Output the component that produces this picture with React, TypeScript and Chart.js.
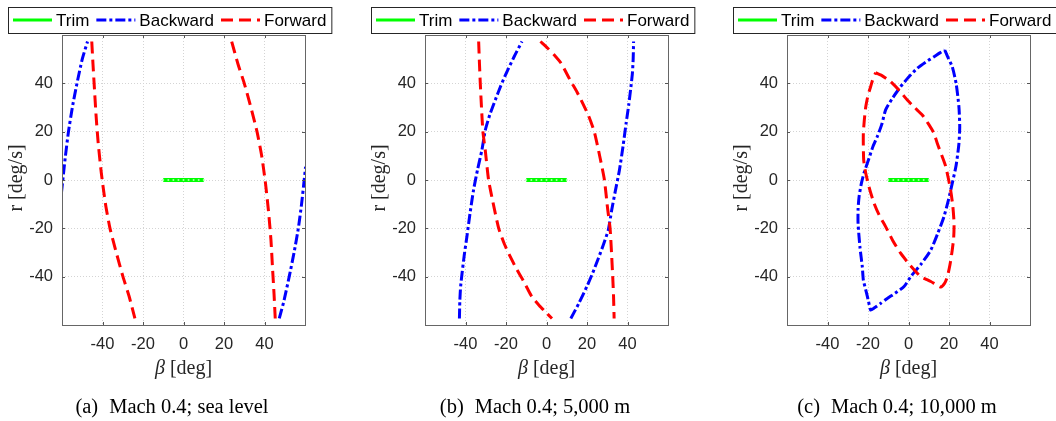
import React, { useEffect, useRef } from 'react';
import { Chart, registerables } from 'chart.js';

Chart.register(...registerables);

// ---------- axes / labels ----------
const X_MIN = -60;
const X_MAX = 60;
const Y_MIN = -60;
const Y_MAX = 60;
const tickValues = [-40, -20, 0, 20, 40];
const legendLabels = ['Trim', 'Backward', 'Forward'];
const panelTags = ['(a)', '(b)', '(c)'];
const panelCaptions = ['Mach 0.4; sea level', 'Mach 0.4; 5,000 m', 'Mach 0.4; 10,000 m'];
const xAxisSymbol = 'β';
const xAxisUnit = ' [deg]';
const yAxisTitle = 'r [deg/s]';

// ---------- Trim (same in all panels) ----------
const trimBeta = [-10, -7.5, -5, -2.5, 0, 2.5, 5, 7.5, 10];
const trimR = [0, 0, 0, 0, 0, 0, 0, 0, 0];

// ---------- (a) sea level ----------
const aBackwardLeftBeta = [-60.3, -59.6, -58.3, -56.8, -54.9, -52.6, -50, -47.4];
const aBackwardLeftR = [-5.5, 0, 10, 20, 30, 40, 50, 57.3];
const aBackwardRightBeta = [47.3, 49.6, 52.2, 54.6, 56.7, 58.3, 59.6, 60.3];
const aBackwardRightR = [-57.3, -50, -40, -30, -20, -10, 0, 5.5];
const aForwardLeftBeta = [-45.3, -44.7, -44, -43.2, -42.2, -40.6, -38.5, -36.3, -33.2, -29.9, -26.9, -24];
const aForwardLeftR = [57.3, 48, 38, 27, 16, 3, -10, -20, -30, -40, -48, -57.3];
const aForwardRightBeta = [23.8, 26.9, 30, 33.3, 36.3, 38.6, 40.5, 42.1, 43.2, 44, 44.7, 45.3];
const aForwardRightR = [57.3, 48, 40, 30, 20, 10, -1.4, -14, -25, -37, -47, -57.3];

// ---------- (b) 5,000 m ----------
const bBackwardLeftBeta = [-43, -42.8, -42.4, -41.7, -40.6, -39.3, -37.8, -36, -34, -31.9, -30.2, -28, -25.3, -22.8, -20.3, -16, -12.1];
const bBackwardLeftR = [-57.3, -50, -44, -38.6, -31, -23.4, -14, -4, 4.5, 12.4, 20.7, 27, 33.1, 38.5, 43.4, 51, 57.3];
const bBackwardRightBeta = [12, 16, 20.3, 22.8, 25.3, 28, 30.5, 32.2, 34, 36, 37.8, 39.3, 40.6, 41.7, 42.4, 42.8, 43];
const bBackwardRightR = [-57.3, -51, -43.4, -38.5, -33.1, -27, -20.7, -12.4, -4.5, 4, 14, 23.4, 31, 38.6, 44, 50, 57.3];
const bForwardLeftBeta = [-33.5, -33.1, -32.7, -32.1, -31.4, -30.2, -28.6, -26.5, -23.6, -20.8, -17.9, -15, -12.1, -9.5, -7.2, -3.5, -0.6, 2.7];
const bForwardLeftR = [57.3, 48, 40, 30, 20, 12, 0, -9, -20, -26.5, -31.7, -36.5, -40.7, -44.8, -48.3, -52, -54.5, -57.3];
const bForwardRightBeta = [-3, 0.6, 3.5, 7.2, 9.5, 12.1, 15, 17.9, 20.8, 23.6, 26.5, 28.6, 30.2, 31.4, 32.1, 32.7, 33.1, 33.4];
const bForwardRightR = [57.3, 54.5, 52, 48.3, 44.8, 40.7, 36.5, 31.7, 26.5, 20, 9, 0, -12, -20, -30, -40, -48, -57.3];

// ---------- (c) 10,000 m ----------
const cBackwardBeta = [17.9, 19.6, 21.6, 23.5, 24.9, 25.3, 24.9, 23.5, 21.6, 19.8, 17.5, 14.5, 11, 6.5, 1.1, -2.2, -6.5, -10.5, -14, -17, -18.7, -19.8, -20.8, -22.3, -22.8, -24, -24.9, -24.9, -24.4, -23.3, -22, -19.5, -17.5, -15.4, -13.2, -11.3, -7.8, -3.9, 0, 4.3, 8.5, 12.6, 15.5, 17.9];
const cBackwardR = [53.8, 50.5, 46.9, 40, 30.3, 22, 15, 6, -1.4, -8, -15.2, -22, -29, -34.5, -40, -44.1, -46.8, -49, -51.2, -53, -53.8, -50, -46.5, -41.4, -36, -27.6, -18, -12, -6.9, -1.5, 2.8, 9, 14, 18, 23, 29, 34, 38.6, 42.5, 46.2, 48.8, 51, 52.6, 53.8];
const cForwardBeta = [-16.2, -13.5, -11, -8.8, -4.5, -0.6, 3, 6.8, 10, 12.6, 14.2, 16.5, 18.4, 20.8, 21.9, 22.5, 22.3, 21.6, 20.5, 19.2, 17.8, 15.9, 13.5, 11, 8.5, 6, 1, -3.9, -7.8, -11.3, -14.5, -17, -19.3, -21.1, -22.1, -22.3, -22.3, -21.8, -21.1, -20, -18.7, -17.5, -16.2];
const cForwardR = [44.4, 43.4, 42, 40.7, 37, 33.1, 30, 26.9, 23, 19.3, 15.2, 10, 5.5, -4.1, -11, -17.9, -24, -29, -35, -40, -42.8, -44.3, -43.2, -42, -41, -40, -35.5, -30.3, -25, -19.3, -14.5, -9.7, -3.5, 2.8, 8, 13.8, 19.3, 25, 30.3, 35, 38.6, 42, 44.4];

// ---------- series styles ----------
const seriesStyle: Record<string, { color: string; width: number; dash: number[]; order: number }> = {
  Trim: { color: '#00ff00', width: 4, dash: [], order: 2 },
  Backward: { color: '#0000ff', width: 3, dash: [10, 3, 3, 3], order: 1 },
  Forward: { color: '#ff0000', width: 3, dash: [12, 6], order: 0 },
};

type Series = [string, number[], number[]];

const panels: { canvasLeft: number; areaLeft: number; rightPad: number; series: Series[] }[] = [
  {
    canvasLeft: 0,
    areaLeft: 62,
    rightPad: 47,
    series: [
      ['Trim', trimBeta, trimR],
      ['Backward', aBackwardLeftBeta, aBackwardLeftR],
      ['Backward', aBackwardRightBeta, aBackwardRightR],
      ['Forward', aForwardLeftBeta, aForwardLeftR],
      ['Forward', aForwardRightBeta, aForwardRightR],
    ],
  },
  {
    canvasLeft: 352,
    areaLeft: 73,
    rightPad: 36,
    series: [
      ['Trim', trimBeta, trimR],
      ['Backward', bBackwardLeftBeta, bBackwardLeftR],
      ['Backward', bBackwardRightBeta, bBackwardRightR],
      ['Forward', bForwardLeftBeta, bForwardLeftR],
      ['Forward', bForwardRightBeta, bForwardRightR],
    ],
  },
  {
    canvasLeft: 704,
    areaLeft: 83,
    rightPad: 26,
    series: [
      ['Trim', trimBeta, trimR],
      ['Backward', cBackwardBeta, cBackwardR],
      ['Forward', cForwardBeta, cForwardR],
    ],
  },
];

const SANS = '"Liberation Sans", Arial, Helvetica, sans-serif';
const SERIF = '"Liberation Serif", "Times New Roman", serif';
const AXIS_COLOR = '#262626';

const decorPlugin = {
  id: 'decor',
  afterDraw(chart: any, _args: any, opts: any) {
    const ctx: CanvasRenderingContext2D = chart.ctx;
    const { left, right, top, bottom } = chart.chartArea;
    const xs = chart.scales.x;
    const ys = chart.scales.y;
    ctx.save();

    // box
    ctx.strokeStyle = '#666666';
    ctx.lineWidth = 1;
    ctx.setLineDash([]);
    ctx.strokeRect(Math.round(left) + 0.5, Math.round(top) + 0.5, Math.round(right - left), Math.round(bottom - top));

    // inner tick marks
    ctx.strokeStyle = '#555';
    ctx.beginPath();
    tickValues.forEach((v) => {
      const px = Math.round(xs.getPixelForValue(v)) + 0.5;
      ctx.moveTo(px, bottom);
      ctx.lineTo(px, bottom - 3);
      ctx.moveTo(px, top);
      ctx.lineTo(px, top + 3);
      const py = Math.round(ys.getPixelForValue(v)) + 0.5;
      ctx.moveTo(left, py);
      ctx.lineTo(left + 3, py);
      ctx.moveTo(right, py);
      ctx.lineTo(right - 3, py);
    });
    ctx.stroke();

    // legend
    ctx.font = `17px ${SANS}`;
    const pad = 5;
    const lineLen = 39;
    const textGap = 4;
    const itemGap = 7;
    const widths = legendLabels.map((l) => ctx.measureText(l).width);
    let total = pad + 5;
    widths.forEach((w, i) => {
      total += lineLen + textGap + w + (i > 0 ? itemGap : 0);
    });
    const lx = Math.round(left - 54);
    const ly = 7;
    const lh = 26;
    ctx.fillStyle = '#ffffff';
    ctx.fillRect(lx, ly, total, lh);
    ctx.strokeStyle = AXIS_COLOR;
    ctx.lineWidth = 1;
    ctx.strokeRect(lx + 0.5, ly + 0.5, total, lh);
    let cx = lx + pad;
    const cy = ly + lh / 2;
    legendLabels.forEach((label, i) => {
      const st = seriesStyle[label];
      ctx.save();
      ctx.strokeStyle = st.color;
      ctx.lineWidth = 3;
      ctx.setLineDash(st.dash);
      ctx.beginPath();
      ctx.moveTo(cx, cy);
      ctx.lineTo(cx + lineLen, cy);
      ctx.stroke();
      ctx.restore();
      cx += lineLen + textGap;
      ctx.fillStyle = '#000';
      ctx.textAlign = 'left';
      ctx.textBaseline = 'middle';
      ctx.fillText(label, cx, cy + 1);
      cx += widths[i] + itemGap;
    });

    // y title
    ctx.save();
    ctx.translate(left - 45, (top + bottom) / 2 - 2);
    ctx.rotate(-Math.PI / 2);
    ctx.font = `20px ${SERIF}`;
    ctx.fillStyle = AXIS_COLOR;
    ctx.textAlign = 'center';
    ctx.textBaseline = 'middle';
    ctx.fillText(yAxisTitle, 0, 0);
    ctx.restore();

    // x title
    const mid = (left + right) / 2;
    ctx.textBaseline = 'middle';
    ctx.textAlign = 'left';
    ctx.font = `italic 20px ${SERIF}`;
    const wSym = ctx.measureText(xAxisSymbol).width;
    ctx.font = `20px ${SERIF}`;
    const wUnit = ctx.measureText(xAxisUnit).width;
    const x0 = mid - (wSym + wUnit) / 2;
    ctx.fillStyle = AXIS_COLOR;
    ctx.font = `italic 20px ${SERIF}`;
    ctx.fillText(xAxisSymbol, x0, 369);
    ctx.font = `20px ${SERIF}`;
    ctx.fillText(xAxisUnit, x0 + wSym, 369);

    // caption
    ctx.font = `20.5px ${SERIF}`;
    ctx.fillStyle = '#000';
    const tag = opts.tag as string;
    const cap = opts.caption as string;
    const wTag = ctx.measureText(tag).width;
    const wCap = ctx.measureText(cap).width;
    const gap = 11;
    const c0 = mid - 11.5 - (wTag + gap + wCap) / 2;
    ctx.fillText(tag, c0, 408);
    ctx.fillText(cap, c0 + wTag + gap, 408);

    ctx.restore();
  },
};

function Panel({ index }: { index: number }) {
  const ref = useRef<HTMLCanvasElement | null>(null);
  const p = panels[index];
  useEffect(() => {
    if (!ref.current) return;
    const datasets = p.series.map(([label, betas, rs]) => {
      const st = seriesStyle[label];
      const isTrim = label === 'Trim';
      return {
        label,
        data: betas.map((b, i) => ({ x: b, y: rs[i] })),
        showLine: true,
        borderColor: st.color,
        borderWidth: st.width,
        borderDash: st.dash,
        backgroundColor: isTrim ? '#a8ffa8' : st.color,
        pointRadius: isTrim ? 1 : 0,
        pointBorderWidth: 0,
        pointHoverRadius: 0,
        tension: 0.2,
        fill: false,
        order: st.order,
      };
    });
    const chart = new Chart(ref.current, {
      type: 'scatter',
      data: { datasets },
      plugins: [decorPlugin],
      options: {
        responsive: false,
        animation: false,
        events: [],
        layout: { padding: { top: 35, left: 0, right: p.rightPad, bottom: 0 } },
        plugins: {
          legend: { display: false },
          tooltip: { enabled: false },
          title: { display: false },
          decor: { tag: panelTags[index], caption: panelCaptions[index] },
        } as any,
        scales: {
          x: {
            type: 'linear',
            min: X_MIN,
            max: X_MAX,
            afterBuildTicks: (s: any) => {
              s.ticks = tickValues.map((v) => ({ value: v }));
            },
            afterFit: (s: any) => {
              s.height = 96;
            },
            ticks: {
              padding: 10,
              color: AXIS_COLOR,
              font: { family: SANS, size: 16.5 },
              maxRotation: 0,
              autoSkip: false,
            },
            grid: { color: '#d4d4d4', lineWidth: 1, drawTicks: false },
            border: { display: false, dash: [1, 2] },
          },
          y: {
            type: 'linear',
            min: Y_MIN,
            max: Y_MAX,
            afterBuildTicks: (s: any) => {
              s.ticks = tickValues.map((v) => ({ value: v }));
            },
            afterFit: (s: any) => {
              s.width = p.areaLeft;
            },
            ticks: {
              padding: 9,
              color: AXIS_COLOR,
              font: { family: SANS, size: 16.5 },
              autoSkip: false,
            },
            grid: { color: '#d4d4d4', lineWidth: 1, drawTicks: false },
            border: { display: false, dash: [1, 2] },
          },
        },
      } as any,
    });
    return () => chart.destroy();
  }, [index]);
  return (
    <canvas
      ref={ref}
      width={352}
      height={421}
      style={{ position: 'absolute', left: p.canvasLeft, top: 0, width: 352, height: 421 }}
    />
  );
}

export default function App() {
  return (
    <div style={{ position: 'fixed', left: 0, top: 0, width: 1056, height: 421, background: '#fff', overflow: 'hidden' }}>
      {panels.map((_, i) => (
        <Panel key={i} index={i} />
      ))}
    </div>
  );
}
